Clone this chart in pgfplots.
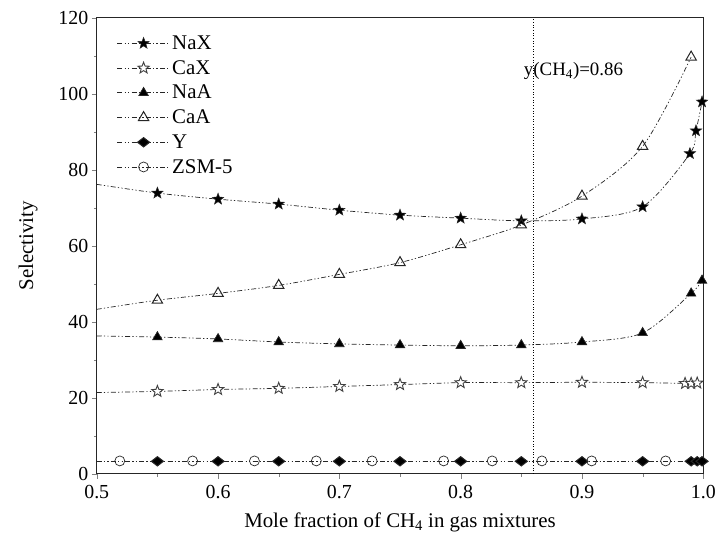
\documentclass[border=0pt]{standalone}
\usepackage{fontspec}
\setmainfont{Liberation Serif}
\usepackage{pgfplots}
\pgfplotsset{compat=1.18}
\pgfdeclareplotmark{fstar}{%
 \pgfpathmoveto{\pgfpointpolar{90}{\pgfplotmarksize}}%
 \pgfpathlineto{\pgfpointpolar{126}{0.42\pgfplotmarksize}}%
 \pgfpathlineto{\pgfpointpolar{162}{\pgfplotmarksize}}%
 \pgfpathlineto{\pgfpointpolar{198}{0.42\pgfplotmarksize}}%
 \pgfpathlineto{\pgfpointpolar{234}{\pgfplotmarksize}}%
 \pgfpathlineto{\pgfpointpolar{270}{0.42\pgfplotmarksize}}%
 \pgfpathlineto{\pgfpointpolar{306}{\pgfplotmarksize}}%
 \pgfpathlineto{\pgfpointpolar{342}{0.42\pgfplotmarksize}}%
 \pgfpathlineto{\pgfpointpolar{18}{\pgfplotmarksize}}%
 \pgfpathlineto{\pgfpointpolar{54}{0.42\pgfplotmarksize}}%
 \pgfpathclose
 \pgfusepathqfillstroke
}
\pgfdeclareplotmark{fdiam}{%
 \pgfpathmoveto{\pgfqpoint{0pt}{0.85\pgfplotmarksize}}%
 \pgfpathlineto{\pgfqpoint{1.1\pgfplotmarksize}{0pt}}%
 \pgfpathlineto{\pgfqpoint{0pt}{-0.85\pgfplotmarksize}}%
 \pgfpathlineto{\pgfqpoint{-1.1\pgfplotmarksize}{0pt}}%
 \pgfpathclose
 \pgfusepathqfillstroke
}
\begin{document}
\begin{tikzpicture}
\tikzset{ddot/.style={dash pattern=on 5bp off 2.2bp on 1.3bp off 2.2bp on 1.3bp off 2.2bp}}
\begin{axis}[
 scale only axis, width=608bp, height=457bp,
 xmin=0.5, xmax=1.0, ymin=0, ymax=120,
 xtick={0.5,0.6,0.7,0.8,0.9,1.0},
 xticklabels={0.5,0.6,0.7,0.8,0.9,1.0},
 ytick={0,20,40,60,80,100,120},
 minor x tick num=1, minor y tick num=1,
 tick align=outside, tick pos=left,
 major tick length=5bp, minor tick length=3bp,
 axis line style={line width=1bp, black!85},
 /pgf/number format/assume math mode=true,
 ticklabel style={font=\fontsize{20}{24}\selectfont},
 label style={font=\fontsize{21}{25}\selectfont},
 xticklabel style={yshift=-3bp},
 xlabel={Mole fraction of CH\textsubscript{4} in gas mixtures},
 ylabel={Selectivity},
 xlabel style={yshift=-7bp},
 ylabel style={yshift=14bp},
 legend style={draw=none, fill=none, at={(0.028,0.97)}, anchor=north west,
   font=\fontsize{21}{25}\selectfont, row sep=5.5bp},
 legend cell align=left,
 legend image code/.code={%
   \draw[#1, mark=none] (0cm,0cm) -- (1.85cm,0cm);
   \path[#1, mark indices={1}, draw=none] plot coordinates {(0.925cm,0cm)};
 },
 every axis plot/.append style={line width=0.7bp, black!85, ddot},
]
% NaX
\addplot[smooth, tension=0.5, mark=fstar, mark options={solid, fill=black, line width=0.5bp}, mark size=6bp, mark indices={2,3,4,5,6,7,8,9,10,11,12,13}]
 coordinates {(0.5,76.2)(0.55,73.9)(0.6,72.3)(0.65,71.0)(0.7,69.4)(0.75,68.1)(0.8,67.3)(0.85,66.6)(0.9,67.1)(0.95,70.3)(0.989,84.3)(0.994,90.3)(0.999,97.9)};
\addlegendentry{NaX}
% CaX
\addplot[smooth, tension=0.5, mark=fstar, mark options={solid, fill=white, draw=black!75, line width=0.9bp}, mark size=6bp, mark indices={2,3,4,5,6,7,8,9,10,11,12,13}]
 coordinates {(0.5,21.4)(0.55,21.7)(0.6,22.2)(0.65,22.5)(0.7,23.0)(0.75,23.5)(0.8,24.0)(0.85,24.0)(0.9,24.1)(0.95,24.0)(0.985,23.8)(0.99,23.8)(0.995,23.9)};
\addlegendentry{CaX}
% NaA
\addplot[smooth, tension=0.5, mark=triangle*, mark options={solid, fill=black}, mark size=5.5bp, mark indices={2,3,4,5,6,7,8,9,10,11,12,13}]
 coordinates {(0.5,36.3)(0.55,36.0)(0.6,35.5)(0.65,34.7)(0.7,34.2)(0.75,33.9)(0.8,33.7)(0.85,33.9)(0.9,34.7)(0.95,37.1)(0.99,47.5)(0.999,50.9)};
\addlegendentry{NaA}
% CaA
\addplot[smooth, tension=0.5, mark=triangle, mark options={solid, fill=white, line width=1bp}, mark size=6bp, mark indices={2,3,4,5,6,7,8,9,10,11,12,13}]
 coordinates {(0.5,43.3)(0.55,45.7)(0.6,47.5)(0.65,49.6)(0.7,52.5)(0.75,55.6)(0.8,60.3)(0.85,65.5)(0.9,73.1)(0.95,86.2)(0.99,109.7)};
\addlegendentry{CaA}
% Y
\addplot[mark=fdiam, mark options={solid, fill=black}, mark size=5.5bp, line width=1bp, mark indices={2,3,4,5,6,7,8,9,10,11,12,13,14}]
 coordinates {(0.5,3.3)(0.55,3.3)(0.6,3.3)(0.65,3.3)(0.7,3.3)(0.75,3.3)(0.8,3.3)(0.85,3.3)(0.9,3.3)(0.95,3.3)(0.99,3.3)(0.995,3.3)(0.999,3.3)};
\addlegendentry{Y}
% ZSM-5
\addplot[mark=o, mark options={solid, fill=white}, mark size=5bp, mark indices={2,3,4,5,6,7,8,9,10,11}]
 coordinates {(0.5,3.4)(0.519,3.4)(0.579,3.4)(0.63,3.4)(0.681,3.4)(0.727,3.4)(0.786,3.4)(0.826,3.4)(0.867,3.4)(0.908,3.4)(0.969,3.4)(1.0,3.4)};
\addlegendentry{ZSM-5}
% reference line
\addplot[forget plot, solid, dotted, line width=1.6bp, black, mark=none] coordinates {(0.86,0)(0.86,120)};
\node[anchor=west, font=\fontsize{19}{23}\selectfont, inner sep=0pt] at (axis cs:0.852,106) {y(CH\textsubscript{4})=0.86};
\end{axis}
\path (current axis.south west) ++(-97bp,-74bp);
\path (current axis.north east) ++(14bp,18bp);
\end{tikzpicture}
\end{document}
